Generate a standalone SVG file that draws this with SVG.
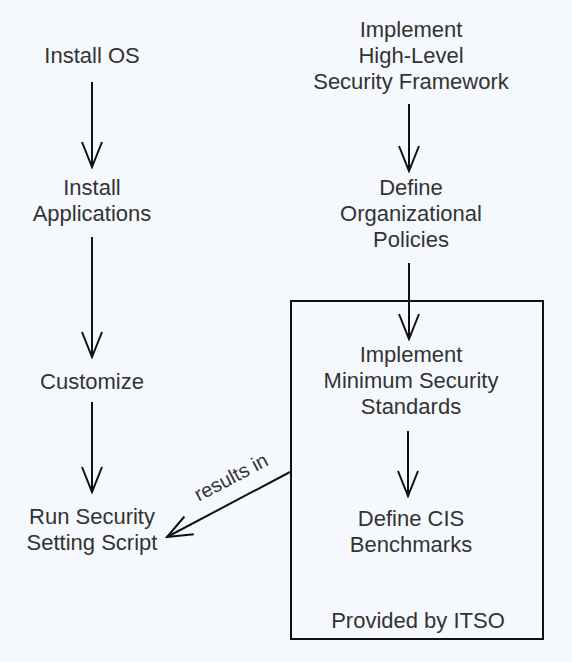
<svg xmlns="http://www.w3.org/2000/svg" width="572" height="662" viewBox="0 0 572 662">
<defs>
<marker id="arr" viewBox="0 0 28 24" markerWidth="28" markerHeight="24" refX="26" refY="12" orient="auto" markerUnits="userSpaceOnUse">
<path d="M1,2 L26,12 L1,22" fill="none" stroke="#111" stroke-width="2"/>
</marker>
<style>
text{font-family:"Liberation Sans",Arial,sans-serif;font-size:22px;fill:#333;text-anchor:middle}
.c{stroke:#111;stroke-width:2;fill:none}
</style>
</defs>
<rect width="572" height="662" fill="#f5f9fd"/>
<g id="itso">
<rect x="291" y="301" width="252" height="338" fill="none" stroke="#111" stroke-width="2"/>
<text x="418" y="628">Provided by ITSO</text>
</g>
<g id="installOS"><text x="92" y="63">Install OS</text></g>
<g id="installApps"><text x="92" y="195">Install</text><text x="92" y="221">Applications</text></g>
<g id="customize"><text x="92" y="389">Customize</text></g>
<g id="runScript"><text x="92" y="524">Run Security</text><text x="92" y="550">Setting Script</text></g>
<g id="framework"><text x="411" y="37">Implement</text><text x="411" y="63">High-Level</text><text x="411" y="89">Security Framework</text></g>
<g id="policies"><text x="411" y="195">Define</text><text x="411" y="221">Organizational</text><text x="411" y="247">Policies</text></g>
<g id="minstd"><text x="411" y="362">Implement</text><text x="411" y="388">Minimum Security</text><text x="411" y="414">Standards</text></g>
<g id="cis"><text x="411" y="526">Define CIS</text><text x="411" y="552">Benchmarks</text></g>
<g id="connectors">
<path class="c" d="M92,82 V167" marker-end="url(#arr)"/>
<path class="c" d="M92,237 V357" marker-end="url(#arr)"/>
<path class="c" d="M92,402 V492" marker-end="url(#arr)"/>
<path class="c" d="M409,104 V171" marker-end="url(#arr)"/>
<path class="c" d="M409,263 V339" marker-end="url(#arr)"/>
<path class="c" d="M408,431 V496" marker-end="url(#arr)"/>
<path class="c" d="M290,472 L167,537" marker-end="url(#arr)"/>
<text x="231" y="484" transform="rotate(-27.7 231 477)" style="font-size:20px">results in</text>
</g>
</svg>
